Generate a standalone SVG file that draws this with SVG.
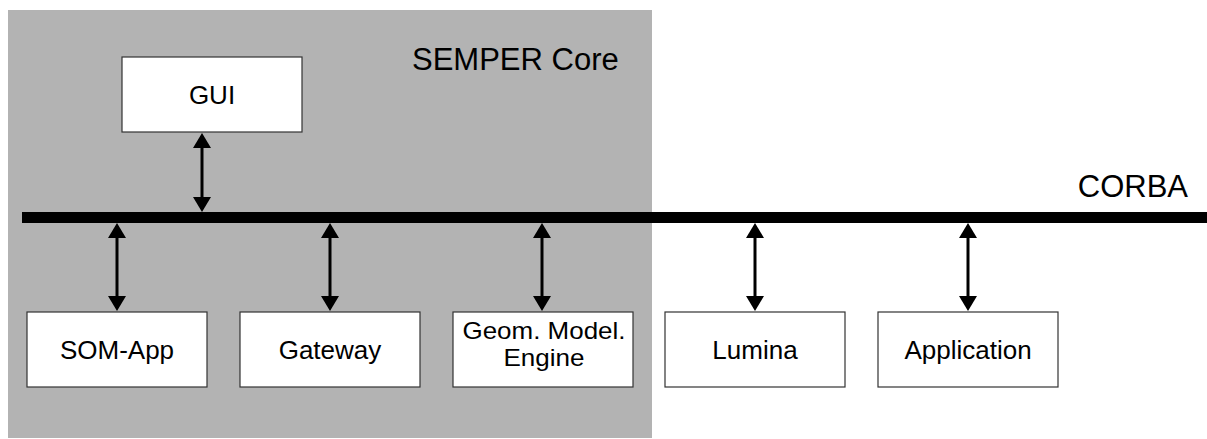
<svg xmlns="http://www.w3.org/2000/svg" width="1207" height="439" viewBox="0 0 1207 439">
  <style>
    .box { fill: #ffffff; stroke: #333333; stroke-width: 1.2; }
    .lbl { font-family: "Liberation Sans", Arial, sans-serif; font-size: 26px; fill: #000000; text-anchor: middle; }
    .lbl2 { font-size: 24px; }
    .big { font-family: "Liberation Sans", Arial, sans-serif; font-size: 31px; fill: #000000; }
    .link { stroke: #000000; stroke-width: 3; fill: none; marker-start: url(#head); marker-end: url(#head); }
  </style>
  <defs>
    <marker id="head" markerUnits="userSpaceOnUse" markerWidth="15" markerHeight="18" viewBox="0 0 15 18" refX="12" refY="9" orient="auto-start-reverse">
      <path d="M0,0 L15,9 L0,18 Z" fill="#000000"/>
    </marker>
  </defs>

  <!-- core area -->
  <g id="semper-core">
    <rect x="8" y="10" width="644" height="428" fill="#b3b3b3"/>
    <text class="big" x="412" y="69.5">SEMPER Core</text>
  </g>

  <!-- object bus -->
  <g id="corba">
    <rect x="22" y="212" width="1185" height="11" fill="#000000"/>
    <text class="big" x="1188" y="197" text-anchor="end">CORBA</text>
  </g>

  <!-- bidirectional links to the bus -->
  <g id="connectors">
    <line class="link" x1="202" y1="136" x2="202" y2="209"/>
    <line class="link" x1="117" y1="226" x2="117" y2="308"/>
    <line class="link" x1="330" y1="226" x2="330" y2="308"/>
    <line class="link" x1="542" y1="226" x2="542" y2="308"/>
    <line class="link" x1="755" y1="226" x2="755" y2="308"/>
    <line class="link" x1="968" y1="226" x2="968" y2="308"/>
  </g>

  <g id="gui">
    <rect class="box" x="122" y="57" width="180" height="75"/>
    <text class="lbl" x="212" y="104">GUI</text>
  </g>
  <g id="som-app">
    <rect class="box" x="27" y="312" width="180" height="75"/>
    <text class="lbl" x="117" y="359">SOM-App</text>
  </g>
  <g id="gateway">
    <rect class="box" x="240" y="312" width="180" height="75"/>
    <text class="lbl" x="330" y="359">Gateway</text>
  </g>
  <g id="geom-engine">
    <rect class="box" x="453" y="312" width="180" height="75"/>
    <text class="lbl lbl2" x="544" y="339" textLength="163" lengthAdjust="spacingAndGlyphs">Geom. Model.</text>
    <text class="lbl lbl2" x="544" y="366" textLength="81" lengthAdjust="spacingAndGlyphs">Engine</text>
  </g>
  <g id="lumina">
    <rect class="box" x="665" y="312" width="180" height="75"/>
    <text class="lbl" x="755" y="359">Lumina</text>
  </g>
  <g id="application">
    <rect class="box" x="878" y="312" width="180" height="75"/>
    <text class="lbl" x="968" y="359">Application</text>
  </g>
</svg>
